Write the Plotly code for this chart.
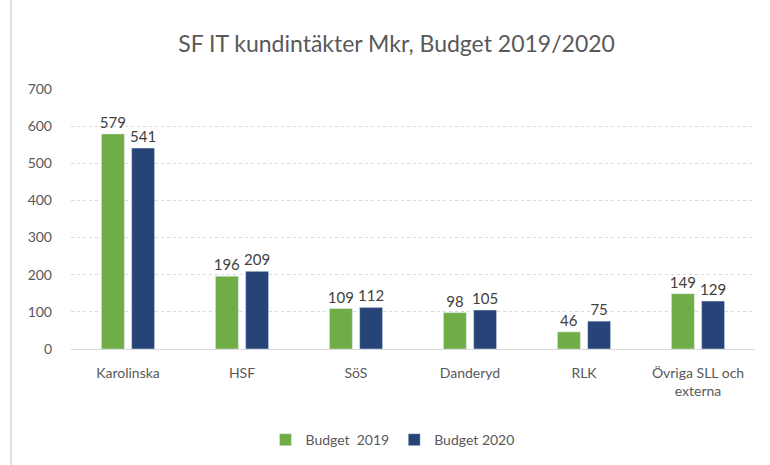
import plotly.graph_objects as go

categories = ["Karolinska", "HSF", "SöS", "Danderyd", "RLK", "Övriga SLL och<br>externa"]
budget_2019 = [579, 196, 109, 98, 46, 149]
budget_2020 = [541, 209, 112, 105, 75, 129]
series_names = ["Budget  2019", "Budget 2020"]
y_ticks = [0, 100, 200, 300, 400, 500, 600, 700]

FONT = "Lato"
GREY = "#595959"

fig = go.Figure()
fig.add_trace(go.Bar(
    x=categories, y=budget_2019, name=series_names[0],
    marker=dict(color="#70AD47"),
    text=budget_2019, textposition="outside", constraintext="none",
    textfont=dict(size=15, color="#404040", family=FONT),
    cliponaxis=False,
))
fig.add_trace(go.Bar(
    x=categories, y=budget_2020, name=series_names[1],
    marker=dict(color="#264478"),
    text=budget_2020, textposition="outside", constraintext="none",
    textfont=dict(size=15, color="#404040", family=FONT),
    cliponaxis=False,
))

fig.update_layout(
    width=770, height=465,
    margin=dict(l=71, r=15, t=89, b=116, autoexpand=False),
    paper_bgcolor="white", plot_bgcolor="white",
    barmode="group", bargap=0.47, bargroupgap=0.24,
    title=dict(text="SF IT kundintäkter Mkr, Budget 2019/2020",
               x=0.515, xanchor="center", y=0.905, yanchor="middle",
               font=dict(size=23, color=GREY, family=FONT)),
    font=dict(family=FONT, color=GREY, size=14),
    xaxis=dict(showgrid=False, showline=False, ticks="",
               tickfont=dict(size=14, color=GREY), ticklabelstandoff=14,
               automargin=False),
    yaxis=dict(range=[0, 700], tickvals=y_ticks, showgrid=True,
               gridcolor="#D9D9D9", griddash="dot", gridwidth=1,
               zeroline=True, zerolinecolor="#D9D9D9", zerolinewidth=1,
               tickfont=dict(size=14, color=GREY), ticklen=0,
               ticklabelstandoff=18, automargin=False),
    legend=dict(orientation="h", x=0.47, xanchor="center",
                yref="container", y=0.088, yanchor="top",
                font=dict(size=14, color=GREY),
                itemwidth=30, traceorder="normal"),
    shapes=[dict(type="line", xref="paper", yref="paper",
                 x0=-0.0877, x1=-0.0877, y0=-0.45, y1=1.35,
                 line=dict(color="#D9D9D9", width=1.5))],
)

fig.write_html("out.html")
